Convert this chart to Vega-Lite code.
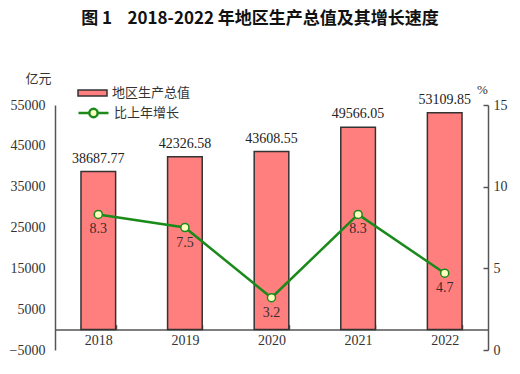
{
  "$schema": "https://vega.github.io/schema/vega-lite/v6.json",
  "width": 433,
  "height": 245,
  "autosize": {"type": "none"},
  "padding": {"left": 55, "top": 105, "right": 32, "bottom": 24},
  "background": "white",
  "title": {
    "text": "图 1\u00a0\u00a0\u00a0 2018-2022 年地区生产总值及其增长速度",
    "font": "Noto Sans CJK SC",
    "fontSize": 17,
    "fontWeight": "bold",
    "color": "#111",
    "anchor": "middle",
    "frame": "group",
    "dx": -11.5,
    "offset": 44
  },
  "config": {
    "view": {"stroke": null},
    "axis": {"domainColor": "#555", "domainWidth": 1.5, "tickColor": "#555", "tickWidth": 1.5, "grid": false,
             "labelFont": "Liberation Serif", "labelFontSize": 14, "labelColor": "#333"},
    "legend": {"padding": 0}
  },
  "data": {"values": [
    {"year": "2018", "gdp": 38687.77, "growth": 8.3},
    {"year": "2019", "gdp": 42326.58, "growth": 7.5},
    {"year": "2020", "gdp": 43608.55, "growth": 3.2},
    {"year": "2021", "gdp": 49566.05, "growth": 8.3},
    {"year": "2022", "gdp": 53109.85, "growth": 4.7}
  ]},
  "encoding": {
    "x": {"field": "year", "type": "nominal", "sort": null,
          "scale": {"paddingInner": 0.6, "paddingOuter": 0.3},
          "axis": {"title": null, "labelAngle": 0, "offset": -20.4, "tickBand": "extent", "tickSize": -5, "labelPadding": 9}}
  },
  "layer": [
    {
      "encoding": {
        "y": {"field": "gdp", "type": "quantitative",
              "scale": {"domain": [-5000, 55000], "nice": false, "zero": false},
              "axis": {"orient": "left", "values": [-5000, 5000, 15000, 25000, 35000, 45000, 55000], "format": "d", "ticks": false, "labelPadding": 10,
                       "title": "亿元", "titleAngle": 0, "titleX": -17, "titleY": -27, "titleAlign": "center", "titleBaseline": "middle",
                       "titleFont": "Noto Sans CJK SC", "titleFontSize": 13, "titleFontWeight": "normal", "titleColor": "#333"}}
      },
      "layer": [
        {
          "mark": {"type": "bar", "stroke": "#333", "strokeWidth": 1.5},
          "encoding": {
            "fill": {"datum": "地区生产总值", "type": "nominal", "scale": {"range": ["#FF7F7F"]},
                     "legend": {"title": null, "orient": "none", "legendX": 22, "legendY": -27.5,
                                "symbolType": "M-1,-0.207H1V0.207H-1Z", "symbolSize": 841, "symbolStrokeColor": "#333", "symbolStrokeWidth": 1.5,
                                "labelFont": "Noto Sans CJK SC", "labelFontSize": 13, "labelColor": "#333", "labelOffset": 4}}
          }
        },
        {
          "mark": {"type": "text", "baseline": "bottom", "dy": -6, "font": "Liberation Serif", "fontSize": 14, "color": "#222"},
          "encoding": {"text": {"field": "gdp", "type": "quantitative", "format": ".2f"}}
        }
      ]
    },
    {
      "encoding": {
        "y": {"field": "growth", "type": "quantitative",
              "scale": {"domain": [0, 15], "nice": false},
              "axis": {"orient": "right", "values": [0, 5, 10, 15], "tickSize": -5, "labelPadding": 10,
                       "title": "%", "titleAngle": 0, "titleX": -6, "titleY": -16, "titleAlign": "center", "titleBaseline": "middle",
                       "titleFont": "Liberation Serif", "titleFontSize": 13, "titleFontWeight": "normal", "titleColor": "#333"}}
      },
      "layer": [
        {
          "mark": {"type": "line", "strokeWidth": 2.5},
          "encoding": {
            "stroke": {"datum": "比上年增长", "type": "nominal", "scale": {"range": ["#1A8A1A"]},
                       "legend": {"title": null, "orient": "none", "legendX": 22, "legendY": -8.5,
                                  "symbolType": "M-1,0H-0.28M0.28,0H1M-0.28,0A0.28,0.28 0 1,0 0.28,0A0.28,0.28 0 1,0 -0.28,0", "symbolSize": 900, "symbolStrokeWidth": 2.5,
                                  "symbolFillColor": "#FFFFC0",
                                  "labelFont": "Noto Sans CJK SC", "labelFontSize": 13, "labelColor": "#333", "labelOffset": 4}}
          }
        },
        {
          "mark": {"type": "point", "filled": true, "fill": "#FFFFC0", "stroke": "#1A8A1A", "strokeWidth": 1.5, "size": 65, "opacity": 1}
        },
        {
          "mark": {"type": "text", "baseline": "top", "dy": 8, "font": "Liberation Serif", "fontSize": 14, "color": "#3d2b2b"},
          "encoding": {"text": {"field": "growth", "type": "quantitative", "format": ".1f"}}
        }
      ]
    }
  ],
  "resolve": {"scale": {"y": "independent"}}
}
